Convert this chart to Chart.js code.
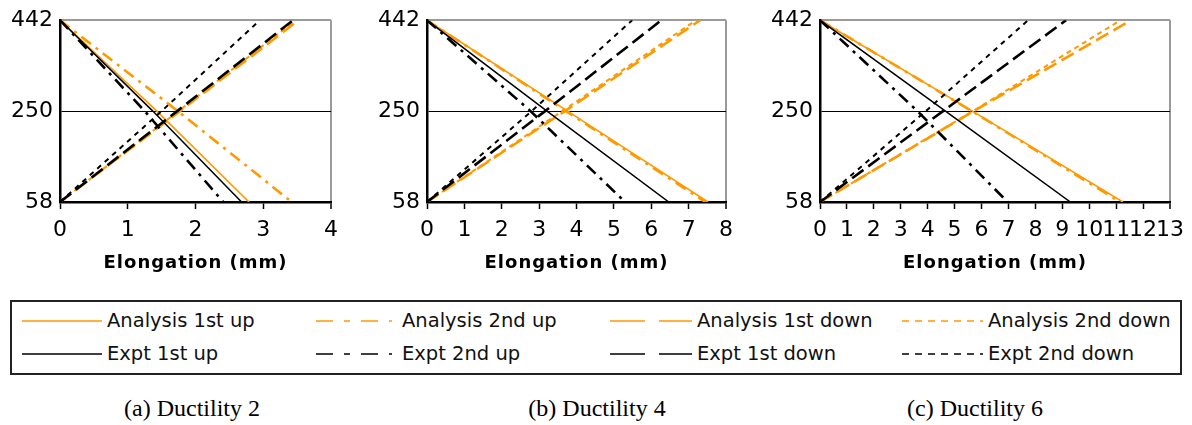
<!DOCTYPE html>
<html>
<head>
<meta charset="utf-8">
<script src="https://cdn.jsdelivr.net/npm/chart.js@4.4.1/dist/chart.umd.min.js"></script>
<style>
html,body{margin:0;padding:0;background:#fff;}
#wrap{position:relative;width:1192px;height:425px;overflow:hidden;background:#fff;}
canvas.panel{position:absolute;top:0;}
#legendBox{position:absolute;left:10px;top:300px;width:1172px;height:75px;border:2px solid #222;box-sizing:border-box;}
.lg{position:absolute;height:22px;line-height:22px;font-family:"DejaVu Sans",sans-serif;font-size:19.5px;color:#111;white-space:nowrap;}
.lg svg{position:absolute;top:8px;}
.cap{position:absolute;top:395px;font-family:"Liberation Serif","Times New Roman",serif;font-size:24px;color:#000;white-space:nowrap;transform:translateX(-50%);}
</style>
</head>
<body>
<div id="wrap">
  <canvas id="pa" class="panel"></canvas>
  <canvas id="pb" class="panel"></canvas>
  <canvas id="pc" class="panel"></canvas>
  <div id="legendBox"></div>
  <div id="legendItems"></div>
  <div class="cap" style="left:192px">(a) Ductility 2</div>
  <div class="cap" style="left:597px">(b) Ductility 4</div>
  <div class="cap" style="left:975px">(c) Ductility 6</div>
</div>
<script>
// ---------- DATA ----------
const seriesNames = ['Analysis 1st up','Analysis 2nd up','Analysis 1st down','Analysis 2nd down',
                     'Expt 1st up','Expt 2nd up','Expt 1st down','Expt 2nd down'];
// Load levels (kN) at which elongation is read: "up" curves fall from 442 to 58, "down" curves rise from 58 to 442
const loadsUp   = [442, 250, 58];
const loadsDown = [58, 250, 442];
const yTicks = [58, 250, 442];
const xMaxA = 4, xMaxB = 8, xMaxC = 13;

// (a) Ductility 2 — elongation (mm)
const a_an1up = [0, 1.43, 2.79];
const a_an2up = [0, 1.74, 3.42];
const a_an1dn = [0, 1.77, 3.52];
const a_an2dn = [0, 1.75, 3.48];
const a_ex1up = [0, 1.37, 2.68];
const a_ex2up = [0, 1.25, 2.41];
const a_ex1dn = [0, 1.73, 3.44];
const a_ex2dn = [0, 1.50, 2.95];

// (b) Ductility 4
const b_an1up = [0, 3.76, 7.52];
const b_an2up = [0, 3.72, 7.45];
const b_an1dn = [0, 3.69, 7.31];
const b_an2dn = [0, 3.62, 7.20];
const b_ex1up = [0, 3.21, 6.47];
const b_ex2up = [0, 2.77, 5.30];
const b_ex1dn = [0, 3.16, 6.27];
const b_ex2dn = [0, 2.80, 5.49];

// (c) Ductility 6
const c_an1up = [0, 5.66, 11.25];
const c_an2up = [0, 5.64, 11.15];
const c_an1dn = [0, 5.71, 11.55];
const c_an2dn = [0, 5.68, 11.16];
const c_ex1up = [0, 4.66, 9.30];
const c_ex2up = [0, 3.62, 6.97];
const c_ex1dn = [0, 4.57, 9.14];
const c_ex2dn = [0, 3.93, 7.73];

// ---------- STYLES ----------
const ORANGE = '#FF9900';
const lineStyles = [
  {color: ORANGE, dash: [], width: 1.6},
  {color: ORANGE, dash: [12, 6, 3, 6], width: 2.6},
  {color: ORANGE, dash: [14, 6], width: 2.6},
  {color: ORANGE, dash: [5, 4], width: 2},
  {color: '#000', dash: [], width: 1.5},
  {color: '#000', dash: [12, 6, 3, 6], width: 2.6},
  {color: '#000', dash: [14, 6], width: 2.6},
  {color: '#000', dash: [5, 5], width: 2}
];
const legendDash = ['', '17 11 6 11 17 11 3 100', '35 14', '7 6', '', '17 11 6 11 17 11 3 100', '35 14', '7 6'];

function toPoints(xs, ys){ return xs.map((x, i) => ({x: x, y: ys[i]})); }

function makePanel(id, left, width, xMax, arrs){
  const cv = document.getElementById(id);
  cv.style.left = left + 'px';
  cv.width = width; cv.height = 285;
  cv.style.width = width + 'px'; cv.style.height = '285px';
  const datasets = arrs.map((xs, i) => {
    const isUp = seriesNames[i].indexOf(' up') >= 0;
    const st = lineStyles[i];
    return {
      label: seriesNames[i],
      data: toPoints(xs, isUp ? loadsUp : loadsDown),
      borderColor: st.color, borderWidth: st.width, borderDash: st.dash,
      pointRadius: 0, showLine: true, fill: false, tension: 0,
      order: i < 4 ? 2 : 1
    };
  });
  new Chart(cv, {
    type: 'scatter',
    data: {datasets},
    options: {
      responsive: false, animation: false, devicePixelRatio: 1,
      layout: {padding: {top: 20, right: 20, left: 0, bottom: 0}},
      plugins: {legend: {display: false}, tooltip: {enabled: false}},
      scales: {
        x: {
          type: 'linear', min: 0, max: xMax,
          ticks: {stepSize: 1, autoSkip: false, maxRotation: 0, minRotation: 0, padding: 8,
                  color: '#000', font: {family: 'DejaVu Sans', size: 22}},
          grid: {
            color: c => (c.tick && c.tick.value === xMax) ? '#9a9a9a' : 'rgba(0,0,0,0)',
            lineWidth: c => (c.tick && c.tick.value === xMax) ? 2 : 1,
            tickColor: '#000', tickLength: 7, tickWidth: 1.5, drawTicks: true
          },
          border: {display: true, color: '#000', width: 2.5},
          title: {display: true, text: 'Elongation (mm)', color: '#000',
                  font: {family: 'DejaVu Sans', size: 18, weight: 'bold'},
                  padding: {top: 0, bottom: 11}},
          afterFit: s => { s.height = 83; }
        },
        y: {
          type: 'linear', min: 58, max: 442,
          afterBuildTicks: s => { s.ticks = yTicks.map(v => ({value: v})); },
          ticks: {padding: 7, color: '#000', font: {family: 'DejaVu Sans', size: 22}},
          grid: {
            color: c => {
              const v = c.tick ? c.tick.value : null;
              if (v === 250) return '#000';
              if (v === 442) return '#9a9a9a';
              return 'rgba(0,0,0,0)';
            },
            lineWidth: c => (c.tick && c.tick.value === 442) ? 2 : 1,
            drawTicks: false
          },
          border: {display: true, color: '#000', width: 2.5},
          afterFit: s => { s.width = 60; }
        }
      }
    },
    plugins: [{
      id: 'titleSpacing',
      beforeDraw(chart){
        const sx = chart.scales.x;
        if (sx && !sx._wrapped){
          const orig = sx.drawTitle.bind(sx);
          sx.drawTitle = function(){
            const ctx = this.ctx; const prev = ctx.letterSpacing;
            ctx.letterSpacing = '1px'; orig(); ctx.letterSpacing = prev || '0px';
          };
          sx._wrapped = true;
        }
      }
    }]
  });
}

makePanel('pa', 0, 351, xMaxA, [a_an1up, a_an2up, a_an1dn, a_an2dn, a_ex1up, a_ex2up, a_ex1dn, a_ex2dn]);
makePanel('pb', 367, 379, xMaxB, [b_an1up, b_an2up, b_an1dn, b_an2dn, b_ex1up, b_ex2up, b_ex1dn, b_ex2dn]);
makePanel('pc', 760, 432, xMaxC, [c_an1up, c_an2up, c_an1dn, c_an2dn, c_ex1up, c_ex2up, c_ex1dn, c_ex2dn]);

// ---------- LEGEND (HTML) ----------
const colSampleX = [22, 316, 610, 902];
const colTextX = [107, 402, 697, 988];
const rowY = [321, 354];
const legendItems = document.getElementById('legendItems');
seriesNames.forEach((name, i) => {
  const row = i < 4 ? 0 : 1, col = i % 4;
  const st = lineStyles[i];
  const sw = colTextX[col] - colSampleX[col] - 5;
  const d = document.createElement('div');
  d.className = 'lg';
  d.style.left = colSampleX[col] + 'px';
  d.style.top = (rowY[row] - 11) + 'px';
  d.innerHTML = '<svg width="' + sw + '" height="6"><line x1="0" y1="3" x2="' + sw + '" y2="3" stroke="' + st.color +
    '" stroke-width="1.6"' + (legendDash[i] ? ' stroke-dasharray="' + legendDash[i] + '"' : '') + '/></svg>' +
    '<span style="position:absolute;left:' + (colTextX[col] - colSampleX[col]) + 'px;top:0">' + name + '</span>';
  legendItems.appendChild(d);
});
</script>
</body>
</html>
